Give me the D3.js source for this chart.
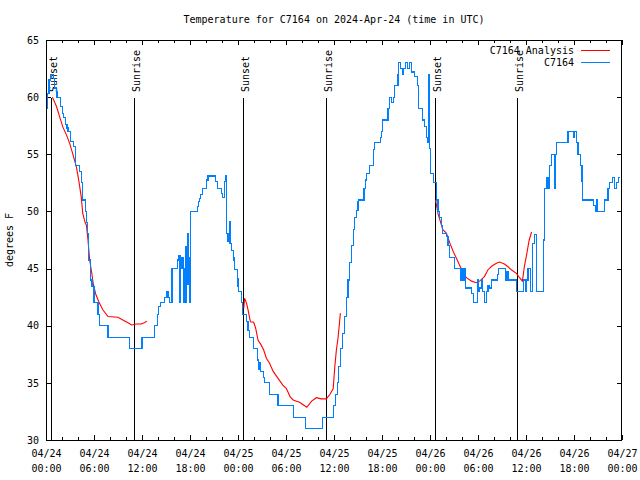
<!DOCTYPE html>
<html><head><meta charset="utf-8">
<script src="https://cdn.jsdelivr.net/npm/d3@7"></script>
<style>
body{margin:0;background:#fff}
svg{display:block}
text{font-family:"DejaVu Sans Mono","Liberation Mono",monospace;font-size:10px;fill:#000}
</style></head><body>
<svg id="c" width="640" height="480"></svg>
<script>
// ---- data ----
const chartTitle = "Temperature for C7164 on 2024-Apr-24 (time in UTC)";
const yAxisLabel = "degrees F";
const xTickHours = [0, 6, 12, 18, 24, 30, 36, 42, 48, 54, 60, 66, 72];
const xTickDates = ["04/24","04/24","04/24","04/24","04/25","04/25","04/25","04/25","04/26","04/26","04/26","04/26","04/27"];
const xTickTimes = ["00:00","06:00","12:00","18:00","00:00","06:00","12:00","18:00","00:00","06:00","12:00","18:00","00:00"];
const xMinorHours = [2,4,8,10,14,16,20,22,26,28,32,34,38,40,44,46,50,52,56,58,62,64,68,70];
const yTicks = [30, 35, 40, 45, 50, 55, 60, 65];
const sunLabels = ["Sunset","Sunrise","Sunset","Sunrise","Sunset","Sunrise"];
const sunHours = [0.68, 11.0, 24.63, 35.05, 48.67, 58.9];
const seriesNames = ["C7164 Analysis", "C7164"];

// observed station temperatures [hours since 04/24 00:00, deg F]
const observed = [
[0.05,59],[0.13,60.3],[0.38,61.5],[0.59,62],[0.96,61.6],[1.09,60.8],[1.3,60.5],[1.38,60],[1.8,59.2],[2.05,58.6],
[2.2,58.2],[2.46,57.6],[2.63,57.3],[2.75,57],[3.05,56.1],[3.4,55.7],[3.65,54],[4.2,53.5],[4.4,52.5],[4.6,51],
[4.9,50],[5.05,49],[5.2,48.1],[5.35,45.75],[5.55,44],[5.75,43.4],[6.0,42],[6.5,41],[6.7,40],[7.75,39],
[10.46,38],[12.0,39],[13.6,40],[13.9,41],[14.1,41.7],[14.3,42],[14.85,42.5],[15.05,43],[15.25,42.5],[15.4,42],
[15.75,45],[16.4,45.75],[16.55,46.1],[16.75,42],[16.85,45],[17.0,46],[17.15,42],[17.25,45],[17.4,42],[17.5,46.9],
[17.65,48.1],[17.75,43.6],[17.85,46],[17.95,42],[18.05,50],[18.9,50.4],[19.05,50.9],[19.15,51.1],[19.3,51.5],[19.55,52],
[20.1,52.75],[20.25,53.1],[21.2,52.6],[21.4,52],[21.9,51.6],[22.05,51.2],[22.3,52.6],[22.45,53.1],[22.55,50.6],[22.6,48.1],
[22.75,47.4],[22.9,47.2],[23.0,49.1],[23.05,47.2],[23.15,46.6],[23.4,46],[23.5,45.7],[23.6,44.9],[23.9,44.1],[24.0,43.4],
[24.1,43],[24.4,42],[24.6,41],[25.05,40.4],[25.25,39.6],[25.45,39],[25.95,38],[26.4,37],[26.55,36.2],[26.7,36.8],
[26.8,36],[27.2,35.5],[27.35,35],[27.95,34],[29.0,33],[30.9,32],[32.45,31],[34.55,32],[35.95,33],[36.2,34],
[36.4,35],[36.6,36.4],[36.8,38],[37.05,39.3],[37.3,40.8],[37.55,42.5],[37.75,44],[37.95,45.5],[38.2,47],[38.4,48.4],
[38.6,49.5],[38.8,50.1],[39.0,50.85],[39.1,51],[39.75,52],[39.95,52.75],[40.1,53.3],[40.4,54],[40.95,55.4],[41.1,56],
[41.8,56.5],[41.9,57],[42.05,58],[42.75,59],[42.9,60],[43.2,59.5],[43.4,60],[43.6,61],[44.0,62],[44.1,63],
[44.3,62.5],[44.55,62],[44.7,62.5],[44.95,63],[45.2,62.5],[45.45,63],[45.7,62.2],[46.1,61.8],[46.4,61],[46.6,59],
[47.1,58],[47.35,57.4],[47.55,56.5],[47.7,56],[47.8,62],[47.9,57],[47.95,55.5],[48.1,53.3],[48.4,52.5],[48.8,51],
[49.0,50],[49.2,49.5],[49.4,48.8],[49.6,48.1],[50.05,47.8],[50.25,47],[50.45,46],[51.1,45],[51.8,44],[51.9,45],
[52.1,44],[52.25,45],[52.4,43.3],[53.2,42.8],[53.4,42],[53.9,44],[54.05,43],[54.2,43.3],[54.4,44],[54.6,43],
[54.8,42],[55.05,43],[55.25,43.5],[55.45,43.3],[55.7,44],[56.4,44.5],[56.6,45],[57.45,44],[57.6,44.7],[57.75,44],
[58.8,43],[59.7,44],[59.95,43],[60.1,44],[60.25,45],[60.6,43],[60.8,47.2],[61.1,48],[61.3,43],[62.2,47.5],
[62.3,52],[62.55,53],[62.75,52],[62.9,54],[63.2,55],[63.6,52],[63.7,55],[63.8,56],[65.25,57],[65.9,56.5],
[66.1,57],[66.3,56],[66.5,55],[66.8,54],[67.0,52.6],[67.1,51],[68.45,50.5],[68.7,50],[68.8,51],[68.95,50],
[69.8,51],[70.25,52],[70.45,52.5],[70.8,53],[71.1,52],[71.3,52.5],[71.6,53],[71.7,53]
];

// analysis temperatures, three night-time runs
const analysis1 = [
[0.8,60.0],[1.3,59.2],[1.7,58.3],[2.1,57.4],[2.55,56.7],[2.96,55.96],[3.4,54.9],[3.8,53.9],[4.1,52.7],[4.4,51.3],
[4.6,49.8],[4.9,49.0],[5.05,48.8],[5.25,47.5],[5.46,45.75],[5.7,44.7],[5.9,43.7],[6.2,42.8],[6.6,42.1],[7.1,41.4],
[7.75,40.8],[9.0,40.74],[9.6,40.5],[10.25,40.26],[10.7,40.06],[11.3,40.15],[11.9,40.15],[12.3,40.26],[12.6,40.4]
];
const analysis2 = [
[24.72,41.5],[24.82,42.4],[25.05,42.0],[25.25,41.4],[25.55,40.35],[25.96,40.3],[26.2,39.8],[26.5,38.75],[26.9,38.3],[27.2,37.9],
[27.55,37.15],[27.96,36.7],[28.4,36.0],[28.7,35.7],[29.1,35.3],[29.6,34.8],[30.05,34.5],[30.5,33.8],[30.9,33.5],[31.3,33.4],
[31.7,33.3],[32.1,33.1],[32.6,32.86],[33.2,33.4],[33.8,33.7],[34.4,33.6],[35.05,33.6],[35.5,34.0],[35.9,34.5],[36.1,36.4],
[36.3,37.9],[36.5,38.9],[36.7,40.35],[36.8,41.1]
];
const analysis3 = [
[48.7,51.0],[49.0,49.8],[49.3,49.1],[49.6,48.4],[50.05,48.1],[50.5,47.2],[50.9,46.5],[51.3,45.9],[51.7,45.3],[52.1,44.7],
[52.55,44.2],[53.2,43.9],[53.8,43.76],[54.2,43.9],[54.8,44.3],[55.25,44.9],[55.7,45.2],[56.3,45.46],[56.7,45.57],[57.3,45.4],
[57.75,45.16],[58.2,44.87],[58.8,44.58],[59.2,44.2],[59.55,43.9],[59.8,45.2],[60.1,46.3],[60.4,47.5],[60.7,48.2]
];

// ---- drawing ----
const L = 46, R = 622, T = 40, B = 440;
const svg = d3.select("#c");
svg.append("rect").attr("width",640).attr("height",480).attr("fill","#fff");

const x = d3.scaleLinear().domain([0,72]).range([L,R]);
const y = d3.scaleLinear().domain([30,65]).range([B,T]);

svg.append("defs").append("clipPath").attr("id","clip")
  .append("rect").attr("x",L).attr("y",T).attr("width",R-L).attr("height",B-T);

function styleAxis(g){
  g.select(".domain").remove();
  g.selectAll(".tick line").attr("stroke","#000").attr("shape-rendering","crispEdges");
}

// bottom major with labels
const gx = svg.append("g").attr("transform",`translate(0,${B})`)
  .call(d3.axisBottom(x).tickValues(xTickHours).tickSize(-5).tickFormat(""));
styleAxis(gx);
gx.selectAll(".tick").each(function(d,i){
  const t = d3.select(this).append("text").attr("text-anchor","middle").attr("fill","#000");
  t.append("tspan").attr("x",0).attr("y",17).text(xTickDates[i]);
  t.append("tspan").attr("x",0).attr("y",31.5).text(xTickTimes[i]);
});
// bottom minor
styleAxis(svg.append("g").attr("transform",`translate(0,${B})`)
  .call(d3.axisBottom(x).tickValues(xMinorHours).tickSize(-3).tickFormat("")));
// top
styleAxis(svg.append("g").attr("transform",`translate(0,${T})`)
  .call(d3.axisTop(x).tickValues(xTickHours).tickSize(-5).tickFormat("")));
styleAxis(svg.append("g").attr("transform",`translate(0,${T})`)
  .call(d3.axisTop(x).tickValues(xMinorHours).tickSize(-3).tickFormat("")));
// left
const gy = svg.append("g").attr("transform",`translate(${L},0)`)
  .call(d3.axisLeft(y).tickValues(yTicks).tickSize(-5).tickPadding(7).tickFormat(d3.format("d")));
styleAxis(gy);
gy.selectAll(".tick text").attr("font-family",null).attr("font-size",null).attr("fill","#000");
// right
styleAxis(svg.append("g").attr("transform",`translate(${R},0)`)
  .call(d3.axisRight(y).tickValues(yTicks).tickSize(-5).tickFormat("")));

// sunrise / sunset markers
const sun = svg.append("g");
sunHours.forEach((h,i)=>{
  const px = x(h);
  sun.append("line").attr("x1",px).attr("x2",px).attr("y1",98).attr("y2",B)
    .attr("stroke","#000").attr("stroke-width",1).attr("shape-rendering","crispEdges");
  sun.append("text").attr("transform",`translate(${px+5.5},92) rotate(-90)`)
    .attr("text-anchor","start").text(sunLabels[i]);
});

// series
const plot = svg.append("g").attr("clip-path","url(#clip)");
const lineObs = d3.line().x(d=>x(d[0])).y(d=>y(d[1])).curve(d3.curveStepAfter);
const lineAna = d3.line().x(d=>x(d[0])).y(d=>y(d[1]));
[analysis1, analysis2, analysis3].forEach(seg=>{
  plot.append("path").attr("d",lineAna(seg)).attr("fill","none")
    .attr("stroke","#ff0000").attr("stroke-width",1.1);
});
plot.append("path").attr("d",lineObs(observed)).attr("fill","none")
  .attr("stroke","#0080ff").attr("stroke-width",1.1).attr("shape-rendering","crispEdges");

// frame
svg.append("rect").attr("x",L+0.5).attr("y",T+0.5).attr("width",R-L-1).attr("height",B-T)
  .attr("fill","none").attr("stroke","#000").attr("stroke-width",1).attr("shape-rendering","crispEdges");

// title and axis label
svg.append("text").attr("x",(L+R)/2).attr("y",23).attr("text-anchor","middle").text(chartTitle);
svg.append("text").attr("transform",`translate(13,${(T+B)/2}) rotate(-90)`)
  .attr("text-anchor","middle").text(yAxisLabel);

// legend
const legColors = ["#ff0000","#0080ff"];
seriesNames.forEach((n,i)=>{
  const ly = 50.5 + i*12;
  svg.append("text").attr("x",574).attr("y",ly+3.6).attr("text-anchor","end").text(n);
  svg.append("line").attr("x1",581).attr("x2",610).attr("y1",ly).attr("y2",ly)
    .attr("stroke",legColors[i]).attr("stroke-width",1).attr("shape-rendering","crispEdges");
});
</script>
</body></html>
